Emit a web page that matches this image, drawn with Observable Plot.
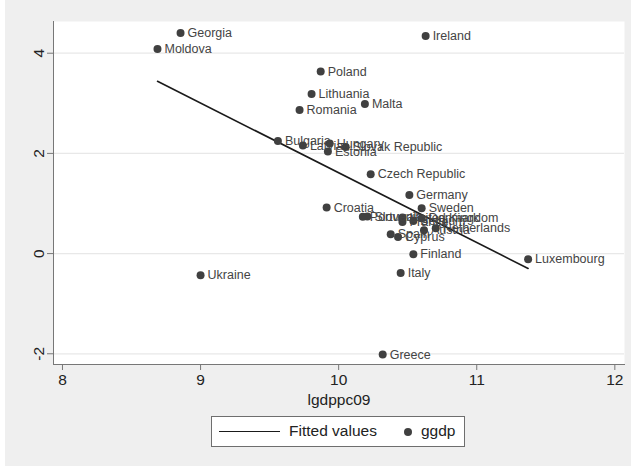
<!DOCTYPE html>
<html>
<head>
<meta charset="utf-8">
<script src="https://cdn.jsdelivr.net/npm/d3@7"></script>
<script src="https://cdn.jsdelivr.net/npm/@observablehq/plot@0.6"></script>
<style>
  html, body { margin: 0; padding: 0; background: #ffffff; }
  #wrap { position: absolute; left: 5px; top: 0; width: 626px; height: 466px; background: #efefef; font-family: "Liberation Sans", Arial, sans-serif; }
  #legend { position: absolute; left: 206px; top: 416px; width: 252px; height: 29px; background: #ffffff; border: 1px solid #6e6e6e; font-size: 15.5px; color: #222; }
  #legend .ln { position: absolute; left: 7px; top: 14px; width: 61px; height: 0; border-top: 1.6px solid #1a1a1a; }
  #legend .t1 { position: absolute; left: 77px; top: 5px; }
  #legend .dt { position: absolute; left: 192px; top: 11px; width: 8px; height: 8px; border-radius: 50%; background: #404040; }
  #legend .t2 { position: absolute; left: 209px; top: 5px; }
</style>
</head>
<body>
<div id="wrap">
  <div id="chart"></div>
  <div id="legend"><div class="ln"></div><div class="t1">Fitted values</div><div class="dt"></div><div class="t2">ggdp</div></div>
</div>
<script>
const countries = ["Georgia","Moldova","Ireland","Poland","Lithuania","Malta","Romania","Bulgaria","Latvia","Hungary","Estonia","Slovak Republic","Czech Republic","Germany","Croatia","Sweden","Portugal","Slovenia","United Kingdom","France","Belgium","Denmark","Austria","Netherlands","Spain","Cyprus","Finland","Luxembourg","Italy","Greece","Ukraine"];
const lgdppc09 = [8.855,8.688,10.630,9.870,9.804,10.190,9.717,9.560,9.741,9.935,9.922,10.051,10.232,10.512,9.913,10.601,10.175,10.208,10.462,10.462,10.541,10.601,10.618,10.703,10.377,10.430,10.541,11.372,10.449,10.319,9.000];
const ggdp = [4.405,4.086,4.345,3.633,3.188,2.988,2.868,2.250,2.156,2.196,2.036,2.130,1.585,1.172,0.918,0.906,0.733,0.739,0.719,0.633,0.653,0.707,0.467,0.507,0.387,0.333,-0.012,-0.112,-0.385,-2.016,-0.431];
const xTicks = [8,9,10,11,12];
const yTicks = [-2,0,2,4];

const data = countries.map((c, i) => ({country: c, x: lgdppc09[i], y: ggdp[i]}));

const chart = Plot.plot({
  width: 626,
  height: 410,
  marginLeft: 48,
  marginRight: 7,
  marginTop: 21,
  marginBottom: 46,
  style: {background: "#efefef", fontFamily: "'Liberation Sans', Arial, sans-serif", fontSize: "15.5px", color: "#222"},
  x: {domain: [7.935, 12.07], ticks: xTicks},
  y: {domain: [-2.214, 4.633], ticks: yTicks},
  marks: [
    Plot.frame({fill: "#ffffff", stroke: "none"}),
    Plot.ruleY(yTicks, {stroke: "#e8e8e8", strokeWidth: 1.2}),
    Plot.frame({anchor: "left", stroke: "#777777"}),
    Plot.frame({anchor: "bottom", stroke: "#777777"}),
    Plot.axisX(xTicks, {tickSize: 6, tickPadding: 3, tickFormat: d => String(d), stroke: "#777777", label: "lgdppc09", labelAnchor: "center", labelArrow: "none", labelOffset: 40, fontSize: 15.5}),
    Plot.axisY(yTicks, {tickSize: 6, tickPadding: 4, tickRotate: -90, tickFormat: d => String(d), stroke: "#777777", label: null, fontSize: 15.5}),
    Plot.linearRegressionY(data, {x: "x", y: "y", ci: 0, stroke: "#1a1a1a", strokeWidth: 1.6}),
    Plot.dot(data, {x: "x", y: "y", r: 4, fill: "#404040", stroke: "none"}),
    Plot.text(data, {x: "x", y: "y", text: "country", dx: 7, textAnchor: "start", fill: "#444444", fontSize: 12.5})
  ]
});
document.getElementById("chart").appendChild(chart);
</script>
</body>
</html>
